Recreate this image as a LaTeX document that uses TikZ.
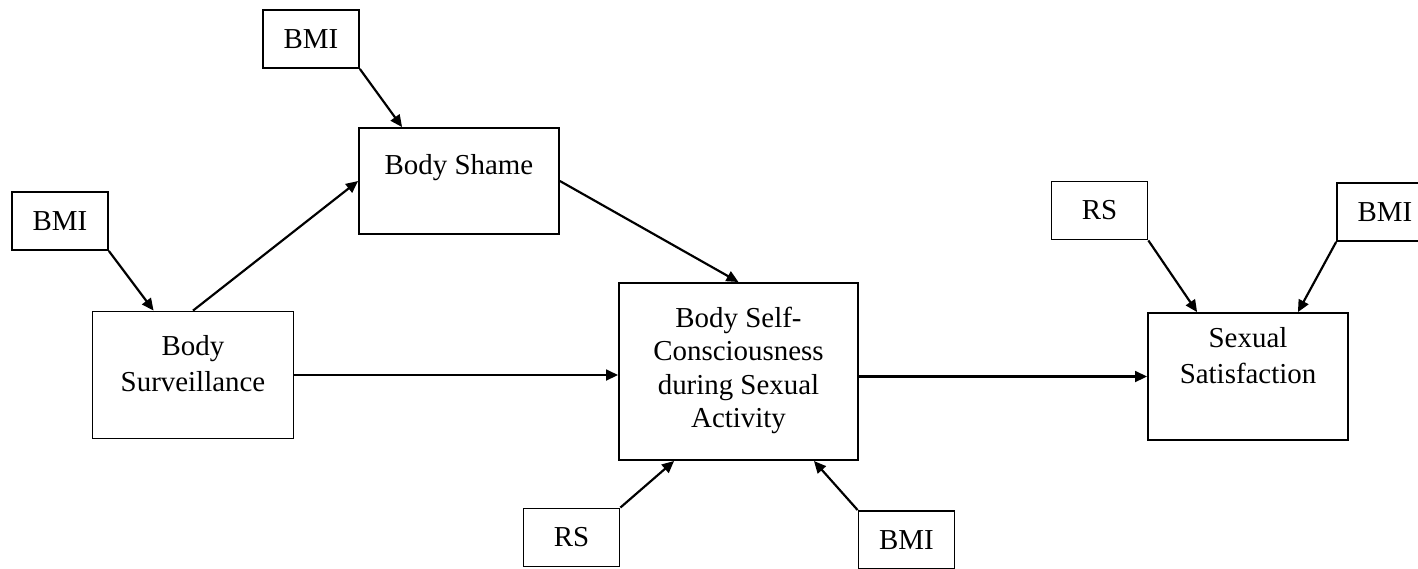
\documentclass[tikz,border=0pt]{standalone}
\usepackage{fontspec}
\setmainfont{Liberation Serif}
\usetikzlibrary{arrows.meta,calc}

% Text of a model box: width, height, first baseline, line distance, lines
\newcommand{\boxlines}[5]{%
  \parbox[c][#2][t]{#1}{\centering\fontsize{12}{#4}\selectfont\rule{0pt}{#3}#5}}

\begin{document}
\begin{tikzpicture}[x=0.415pt, y=-0.415pt,
    font=\fontsize{12}{14}\selectfont,
    var/.style={draw, line width=0.75pt, inner sep=0pt},
    cov/.style={var, minimum width=39.8pt, minimum height=24.1pt},
    link/.style={line width=0.9pt, -{Triangle[length=5pt,width=4.5pt]}}]
    % Picture frame (the right BMI box runs past it)
    \useasboundingbox (0,0) rectangle (1418,568);

    % Main variables:
    % Each box is a node with its text set at the top
    \node [var] (shame) at (459,181)
        {\boxlines{83pt}{44pt}{19.1pt}{14pt}{Body Shame}};
    \node [var] (surv) at (193,375)
        {\boxlines{83.4pt}{52.7pt}{18.3pt}{14.9pt}{Body\\Surveillance}};
    \node [var] (bsc) at (738.5,371.5)
        {\boxlines{99.2pt}{73.5pt}{18.3pt}{13.9pt}{Body Self-\\Consciousness\\during Sexual\\Activity}};
    \node [var] (sat) at (1248,376.5)
        {\boxlines{83pt}{52.7pt}{14.5pt}{14.8pt}{Sexual\\Satisfaction}};

    % Covariates:
    \node [cov] (bmiA) at (311,39)       {BMI};
    \node [cov] (bmiB) at (60,221)       {BMI};
    \node [cov] (rsA)  at (571.5,537.5)  {RS};
    \node [cov] (bmiC) at (906.5,540)    {BMI};
    \node [cov] (rsB)  at (1099.5,210.5) {RS};
    \node [cov] (bmiD) at (1385,212)     {BMI};

    % Paths between the main variables:
    \draw [link] (surv.north) -- (shame.west);
    \draw [link] (shame.east) -- (bsc.north);
    \draw [link] (surv.east) -- (surv.east -| bsc.west);
    \draw [link] (sat.west -| bsc.east) -- (sat.west);

    % Paths from the covariates:
    \draw [link] (bmiA.south east) -- ($(shame.north west)+(44,0)$);
    \draw [link] (bmiB.south east) -- ($(surv.north west)+(62,0)$);
    \draw [link] (rsA.north east)  -- ($(bsc.south west)+(56,0)$);
    \draw [link] (bmiC.north west) -- ($(bsc.south east)+(-45,0)$);
    \draw [link] (rsB.south east)  -- ($(sat.north west)+(50,0)$);
    \draw [link] (bmiD.south west) -- ($(sat.north east)+(-51,0)$);
\end{tikzpicture}
\end{document}
